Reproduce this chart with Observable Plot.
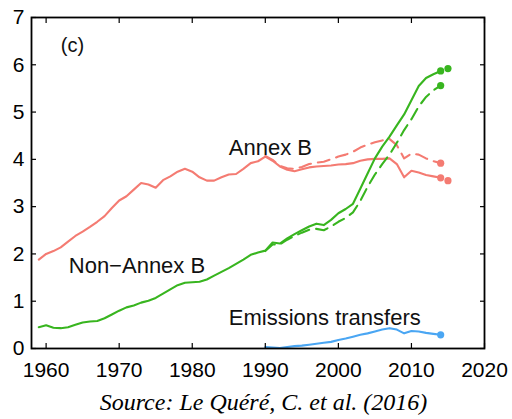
<!DOCTYPE html>
<html>
<head>
<meta charset="utf-8">
<script src="https://cdn.jsdelivr.net/npm/d3@7"></script>
<script src="https://cdn.jsdelivr.net/npm/@observablehq/plot@0.6"></script>
<style>
  html, body { margin: 0; padding: 0; background: #fff; overflow: hidden; }
  #wrap { position: relative; width: 512px; height: 419px; overflow: hidden; }
  #title { position: absolute; top: -57px; left: 140px; width: 241px; text-align: center;
    font: bold 24px/28px "Liberation Serif", "DejaVu Serif", serif; color: #000; }
  #chart { position: absolute; top: 0; left: 0; }
  #caption { position: absolute; top: 388px; left: 0; width: 527px; text-align: center;
    font: italic 24px/28px "Liberation Serif", "DejaVu Serif", serif; color: #000; }
</style>
</head>
<body>
<div id="wrap">
  <div id="title">Emissions by country group</div>
  <div id="chart"></div>
  <div id="caption">Source: Le Quéré, C. et al. (2016)</div>
</div>
<script>
// ---- data (GtC per year) ----
const yearsHist = [1959,1960,1961,1962,1963,1964,1965,1966,1967,1968,1969,1970,1971,1972,1973,1974,1975,1976,1977,1978,1979,1980,1981,1982,1983,1984,1985,1986,1987,1988,1989,1990,1991,1992,1993,1994,1995,1996,1997,1998,1999,2000,2001,2002,2003,2004,2005,2006,2007,2008,2009,2010,2011,2012,2013,2014];
const annexBTerritorial = [1.88,2.00,2.06,2.14,2.26,2.38,2.47,2.57,2.68,2.80,2.97,3.13,3.22,3.36,3.50,3.47,3.40,3.56,3.64,3.74,3.80,3.74,3.62,3.55,3.55,3.62,3.68,3.69,3.80,3.92,3.96,4.06,3.97,3.85,3.78,3.75,3.79,3.83,3.85,3.86,3.87,3.89,3.90,3.92,3.97,4.00,4.01,4.01,4.02,3.90,3.62,3.76,3.72,3.67,3.64,3.61];
const nonAnnexBTerritorial = [0.45,0.49,0.44,0.43,0.45,0.50,0.55,0.57,0.58,0.64,0.72,0.80,0.87,0.91,0.97,1.01,1.07,1.16,1.25,1.34,1.39,1.40,1.41,1.46,1.54,1.62,1.70,1.79,1.88,1.98,2.03,2.07,2.24,2.22,2.33,2.42,2.50,2.58,2.64,2.61,2.72,2.86,2.95,3.06,3.38,3.70,4.02,4.27,4.48,4.72,4.95,5.25,5.55,5.72,5.80,5.87];

const yearsCons = [1990,1991,1992,1993,1994,1995,1996,1997,1998,1999,2000,2001,2002,2003,2004,2005,2006,2007,2008,2009,2010,2011,2012,2013,2014];
const annexBConsumption = [4.07,3.99,3.86,3.81,3.80,3.84,3.90,3.93,3.95,4.00,4.06,4.10,4.16,4.25,4.31,4.36,4.40,4.43,4.30,4.02,4.12,4.10,4.02,3.96,3.92];
const nonAnnexBConsumption = [2.06,2.20,2.20,2.30,2.38,2.45,2.51,2.53,2.50,2.58,2.68,2.76,2.88,3.12,3.42,3.68,3.90,4.10,4.35,4.62,4.85,5.12,5.32,5.46,5.56];
const emissionsTransfers = [0.03,0.02,0.01,0.03,0.05,0.06,0.08,0.10,0.12,0.14,0.18,0.21,0.25,0.29,0.32,0.36,0.40,0.43,0.40,0.32,0.37,0.36,0.33,0.31,0.29];

// end-point markers (last year + 2015 projection)
const dotYears = [2014, 2015, 2014, 2015, 2014, 2014, 2014];
const dotValues = [3.61, 3.55, 5.87, 5.92, 3.92, 5.56, 0.29];
const dotGroup = ["A", "A", "N", "N", "A", "N", "T"];

// annotation labels
const labelText = ["(c)", "Annex B", "Non\u2212Annex B", "Emissions transfers"];
const labelYear = [1962, 1985, 1963.1, 1985];
const labelValue = [6.4, 4.24, 1.75, 0.65];
const labelSize = [20, 22, 22, 22];

const xTicks = [1960, 1970, 1980, 1990, 2000, 2010, 2020];
const yTicks = [0, 1, 2, 3, 4, 5, 6, 7];

const colors = { A: "#f47b72", N: "#38b51f", T: "#4aa6f3" };

// ---- build tables ----
const hist = (vals) => yearsHist.map((y, i) => ({ year: y, v: vals[i] }));
const cons = (vals) => yearsCons.map((y, i) => ({ year: y, v: vals[i] }));
const dots = dotYears.map((y, i) => ({ year: y, v: dotValues[i], g: dotGroup[i] }));
const labels = labelText.map((t, i) => ({ t, year: labelYear[i], v: labelValue[i], s: labelSize[i] }));

const dash = "12,7";
const sw = 2.1;

const chart = Plot.plot({
  width: 512,
  height: 385,
  marginLeft: 31,
  marginRight: 28,
  marginTop: 17,
  marginBottom: 37,
  style: { fontFamily: "'Liberation Sans', Arial, sans-serif", fontSize: "21px", color: "#000", background: "transparent" },
  x: { domain: [1958, 2020] },
  y: { domain: [0, 7] },
  marks: [
    Plot.line(hist(annexBTerritorial), { x: "year", y: "v", stroke: colors.A, strokeWidth: sw }),
    Plot.line(cons(annexBConsumption), { x: "year", y: "v", stroke: colors.A, strokeWidth: sw, strokeDasharray: dash }),
    Plot.line(hist(nonAnnexBTerritorial), { x: "year", y: "v", stroke: colors.N, strokeWidth: sw }),
    Plot.line(cons(nonAnnexBConsumption), { x: "year", y: "v", stroke: colors.N, strokeWidth: sw, strokeDasharray: dash }),
    Plot.line(cons(emissionsTransfers), { x: "year", y: "v", stroke: colors.T, strokeWidth: sw }),
    Plot.dot(dots, { x: "year", y: "v", r: 3.6, fill: (d) => colors[d.g], stroke: "none" }),
    Plot.text(labels, { x: "year", y: "v", text: "t", textAnchor: "start", fontSize: (d) => d.s, fill: "#111" }),
    Plot.axisX({ ticks: xTicks, tickFormat: (d) => String(d), tickSize: 0, tickPadding: 14, label: null }),
    Plot.axisX({ ticks: xTicks, text: null, tickSize: -5, label: null, strokeWidth: 1.2 }),
    Plot.axisX({ anchor: "top", ticks: xTicks, text: null, tickSize: -5, label: null, strokeWidth: 1.2 }),
    Plot.axisY({ ticks: yTicks, tickFormat: (d) => String(d), tickSize: 0, tickPadding: 7, label: null }),
    Plot.axisY({ ticks: yTicks, text: null, tickSize: -5, label: null, strokeWidth: 1.2 }),
    Plot.axisY({ anchor: "right", ticks: yTicks, text: null, tickSize: -5, label: null, strokeWidth: 1.2 }),
    Plot.frame({ stroke: "#000", strokeWidth: 1.8 })
  ]
});
document.getElementById("chart").appendChild(chart);
</script>
</body>
</html>
